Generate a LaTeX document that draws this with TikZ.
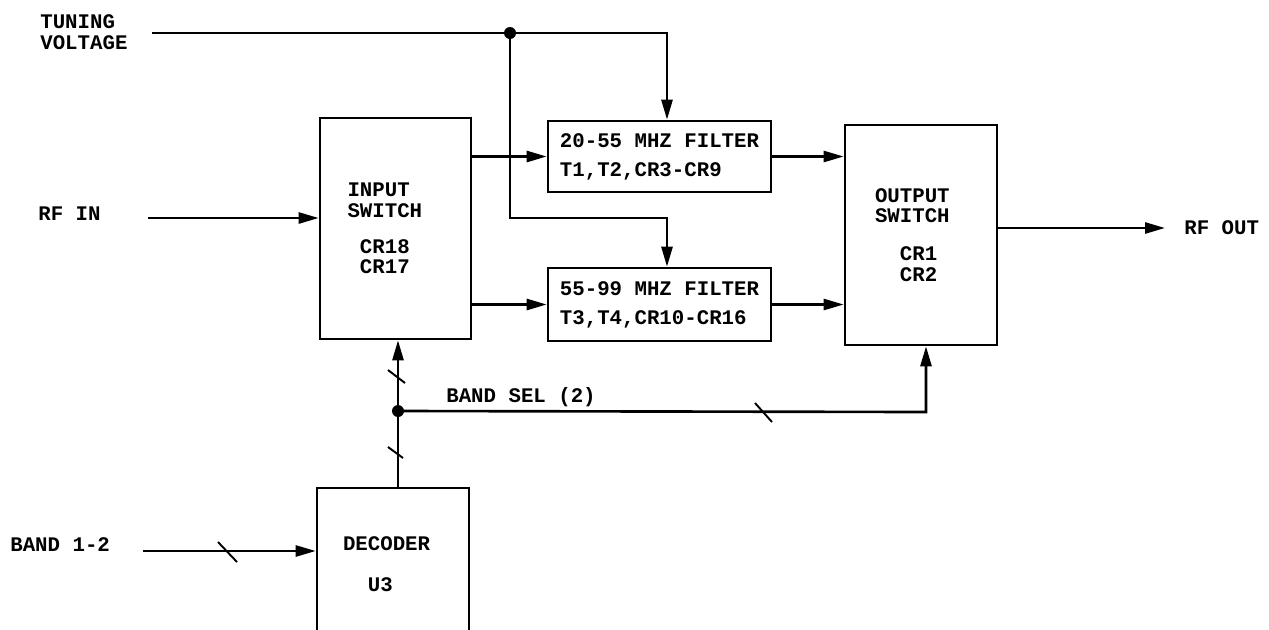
\documentclass[tikz,border=0pt]{standalone}
\usepackage{fontspec}
\setmainfont{Liberation Mono}
\usetikzlibrary{arrows.meta}

\begin{document}
\begin{tikzpicture}[
    blk/.style={draw, line width=1.5pt, align=left, inner sep=0pt},
    lbl/.style={anchor=west, align=left, inner sep=0pt},
    link/.style={line width=1.5pt},
    sig/.style={link, -{Triangle[length=4mm, width=2.2mm]}},
    tick/.style={line width=1.1pt},
    dot/.style={circle, fill, inner sep=0pt, minimum size=0.24cm},
    font=\fontsize{11.8}{11.6}\selectfont\bfseries,
]
\useasboundingbox (0,0) rectangle (25.38,-12.58);
\clip (0,0) rectangle (25.38,-12.58);

% Blocks
\node[blk, minimum width=3.02cm, minimum height=4.42cm, text width=1.92cm] (insw) at (7.91,-4.57) {INPUT\\SWITCH\\[8.9pt]\hspace*{0.6em}CR18\\\hspace*{0.6em}CR17};
\node[blk, minimum width=4.46cm, minimum height=1.42cm] (filta) at (13.19,-3.13) {20-55 MHZ FILTER\\[4.9pt]T1,T2,CR3-CR9};
\node[blk, minimum width=4.46cm, minimum height=1.46cm] (filtb) at (13.19,-6.09) {55-99 MHZ FILTER\\[4.9pt]T3,T4,CR10-CR16};
\node[blk, minimum width=3.04cm, minimum height=4.40cm, text width=1.84cm] (outsw) at (18.42,-4.70) {OUTPUT\\SWITCH\\[10pt]\hspace*{1.2em}CR1\\\hspace*{1.2em}CR2};
\node[blk, minimum width=3.04cm, minimum height=3.06cm, text width=2.00cm] (dec) at (7.86,-11.29) {DECODER\\[11.7pt]\hspace*{1.2em}U3};

% Labels
\node[lbl] (tv) at (0.80,-0.64) {TUNING\\VOLTAGE};
\node[lbl] (rfin) at (0.76,-4.28) {RF IN};
\node[lbl] (rfout) at (23.68,-4.56) {RF OUT};
\node[lbl] (bsel) at (8.92,-7.94) {BAND SEL (2)};
\node[lbl] (band) at (0.20,-10.90) {BAND 1-2};

% Junctions and line ends
\node[dot] (tj) at (10.20,-0.66) {};
\node[dot] (bj) at (7.96,-8.22) {};
\coordinate (tvin) at (3.04,-0.66);
\coordinate (ta) at (13.34,-0.66);
\coordinate (tb) at (13.34,-4.36);
\coordinate (rfinl) at (2.96,-4.36);
\coordinate (rfoutl) at (23.30,-4.56);
\coordinate (bs) at (18.52,-8.24);
\coordinate (bandl) at (2.86,-11.02);

% Tuning voltage
\draw[link] (tvin) -- (tj.center);
\draw[sig] (tj.center) -- (ta) -- (ta |- filta.north);
\draw[sig] (tj.center) -- (tj |- tb) -- (tb) -- (tb |- filtb.north);

% RF path
\draw[sig] (rfinl) -- (rfinl -| insw.west);
\draw[sig] (filta.west -| insw.east) -- (filta.west);
\draw[sig] (filtb.west -| insw.east) -- (filtb.west);
\draw[sig] (filta.east) -- (filta.east -| outsw.west);
\draw[sig] (filtb.east) -- (filtb.east -| outsw.west);
\draw[sig] (rfoutl -| outsw.east) -- (rfoutl);

% Band select
\draw[link] (bj |- dec.north) -- (bj.center);
\draw[sig] (bj.center) -- (bj |- insw.south);
\draw[sig] (bj.center) -- (bs) -- (bs |- outsw.south);
\draw[sig] (bandl) -- (bandl -| dec.west);

% Bus marks
\draw[tick] (7.76,-7.40) -- ++(0.34,-0.26);
\draw[tick] (7.76,-8.94) -- ++(0.30,-0.22);
\draw[tick] (15.10,-8.06) -- ++(0.34,-0.38);
\draw[tick] (4.36,-10.84) -- ++(0.38,-0.40);

\end{tikzpicture}
\end{document}
